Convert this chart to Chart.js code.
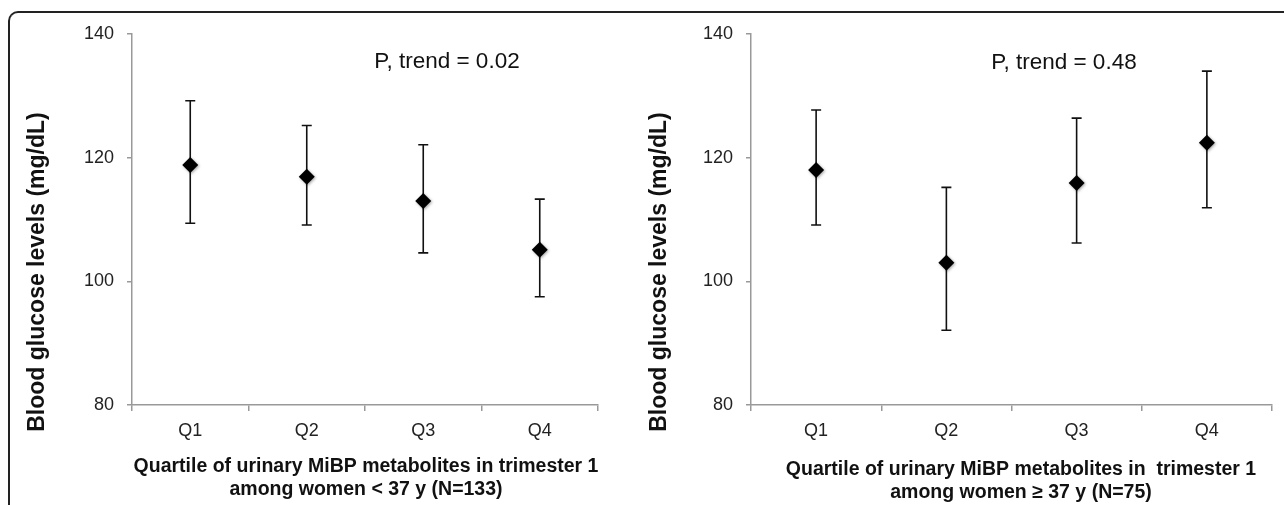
<!DOCTYPE html>
<html>
<head>
<meta charset="utf-8">
<script src="https://cdn.jsdelivr.net/npm/chart.js@4.4.1/dist/chart.umd.min.js"></script>
<style>
  html, body { margin: 0; padding: 0; background: #fff; }
  body { width: 1284px; height: 505px; position: relative; overflow: hidden; }
  #frame {
    position: absolute; left: 8px; top: 11px; width: 1400px; height: 600px;
    border-top: 2px solid #222; border-left: 2px solid #222;
    border-top-left-radius: 10px;
  }
  .panel { position: absolute; top: 0; }
</style>
</head>
<body>
<div id="frame"></div>
<div class="panel" style="left:0px;width:640px;height:505px"><canvas id="left" width="640" height="505"></canvas></div>
<div class="panel" style="left:640px;width:644px;height:505px"><canvas id="right" width="644" height="505"></canvas></div>
<script>
// quartile categories
var categories = ['Q1', 'Q2', 'Q3', 'Q4'];
var yTicks = [80, 100, 120, 140];

// women < 37 y
var youngMeans = [118.8, 116.9, 113.0, 105.1];
var youngLower = [109.4, 109.1, 104.6, 97.5];
var youngUpper = [129.2, 125.2, 122.1, 113.3];

// women >= 37 y
var olderMeans = [118.0, 103.0, 115.9, 122.4];
var olderLower = [109.1, 92.1, 106.2, 111.9];
var olderUpper = [127.7, 115.2, 126.4, 134.0];

Chart.defaults.font.family = 'Liberation Sans, Arial, Helvetica, sans-serif';
Chart.defaults.color = '#1a1a1a';

var errorBars = {
	id: 'errorBars',
	beforeDatasetsDraw: function(chart, args, opts) {
		var ctx = chart.ctx;
		var x = chart.scales.x, y = chart.scales.y;
		ctx.save();
		ctx.strokeStyle = '#111';
		ctx.lineWidth = 1.6;
		for (var i = 0; i < opts.lower.length; i++) {
			var px = x.getPixelForValue(i);
			var lo = y.getPixelForValue(opts.lower[i]);
			var hi = y.getPixelForValue(opts.upper[i]);
			ctx.beginPath();
			ctx.moveTo(px, lo); ctx.lineTo(px, hi);
			ctx.moveTo(px - 5, lo); ctx.lineTo(px + 5, lo);
			ctx.moveTo(px - 5, hi); ctx.lineTo(px + 5, hi);
			ctx.stroke();
		}
		ctx.restore();
	},
	beforeDatasetDraw: function(chart) {
		var ctx = chart.ctx;
		ctx.save();
		ctx.shadowColor = 'rgba(0,0,0,0.35)';
		ctx.shadowBlur = 3;
		ctx.shadowOffsetX = 1;
		ctx.shadowOffsetY = 1;
	},
	afterDatasetDraw: function(chart) {
		chart.ctx.restore();
	}
};

var panelText = {
	id: 'panelText',
	afterDraw: function(chart, args, o) {
		var ctx = chart.ctx;
		ctx.save();
		ctx.fillStyle = '#111';
		ctx.textAlign = 'center';
		ctx.textBaseline = 'middle';
		// y title
		ctx.save();
		ctx.translate(o.yTitleX, o.yTitleY);
		ctx.rotate(-Math.PI / 2);
		ctx.font = 'bold 23px Liberation Sans, Arial, sans-serif';
		ctx.fillText('Blood glucose levels (mg/dL)', 0, 0);
		ctx.restore();
		// x title
		ctx.font = 'bold 19.5px Liberation Sans, Arial, sans-serif';
		o.xTitle.forEach(function(line, i) {
			ctx.fillText(line, o.xTitleX, o.xTitleY + i * 23);
		});
		// trend
		ctx.font = '22.5px Liberation Sans, Arial, sans-serif';
		ctx.fillText(o.trend, o.trendX, o.trendY);
		ctx.restore();
	}
};

function makePanel(id, means, lower, upper, box, text) {
	var ctx = document.getElementById(id).getContext('2d');
	var config = {
		type : 'line',
		data : {
			labels : categories,
			datasets : [{
				data : means,
				showLine : false,
				pointStyle : 'rectRot',
				pointRadius : 8,
				pointBackgroundColor : '#000',
				pointBorderColor : '#000',
				pointBorderWidth : 0
			}]
		},
		options : {
			responsive : false,
			animation : false,
			layout : {
				padding : { left : 0, top : box.top, right : box.canvasW - box.right, bottom : 0 }
			},
			plugins : {
				legend : { display : false },
				tooltip : { enabled : false },
				errorBars : { lower : lower, upper : upper },
				panelText : text
			},
			scales : {
				x : {
					offset : true,
					grid : { offset : true, drawOnChartArea : false, tickLength : 6, color : '#999', lineWidth : 1.5 },
					border : { color : '#999', width : 1.5 },
					ticks : { font : { size : 18 }, padding : 9, maxRotation : 0, color : '#222' },
					afterFit : function(s) {
						s.height = box.canvasH - box.bottom;
						s.paddingLeft = 0;
						s.paddingRight = 0;
					}
				},
				y : {
					min : yTicks[0],
					max : yTicks[yTicks.length - 1],
					afterBuildTicks : function(s) {
						s.ticks = yTicks.map(function(v) { return { value : v }; });
					},
					grid : { drawOnChartArea : false, tickLength : 5, color : '#999', lineWidth : 1.5 },
					border : { color : '#999', width : 1.5 },
					ticks : { font : { size : 18 }, padding : 13, color : '#222' },
					afterFit : function(s) {
						s.width = box.left;
						s.paddingTop = 0;
						s.paddingBottom = 0;
					}
				}
			}
		},
		plugins : [errorBars, panelText]
	};
	return new Chart(ctx, config);
}

makePanel('left', youngMeans, youngLower, youngUpper,
	{ canvasW : 640, canvasH : 505, left : 132, right : 598, top : 34, bottom : 405 },
	{ yTitleX : 38, yTitleY : 272, xTitleX : 366, xTitleY : 467,
	  xTitle : ['Quartile of urinary MiBP metabolites in trimester 1', 'among women < 37 y (N=133)'],
	  trend : 'P, trend = 0.02', trendX : 447, trendY : 62 });

makePanel('right', olderMeans, olderLower, olderUpper,
	{ canvasW : 644, canvasH : 505, left : 111, right : 632, top : 34, bottom : 405 },
	{ yTitleX : 20, yTitleY : 272, xTitleX : 381, xTitleY : 470,
	  xTitle : ['Quartile of urinary MiBP metabolites in  trimester 1', 'among women \u2265 37 y (N=75)'],
	  trend : 'P, trend = 0.48', trendX : 424, trendY : 63 });
</script>
</body>
</html>
